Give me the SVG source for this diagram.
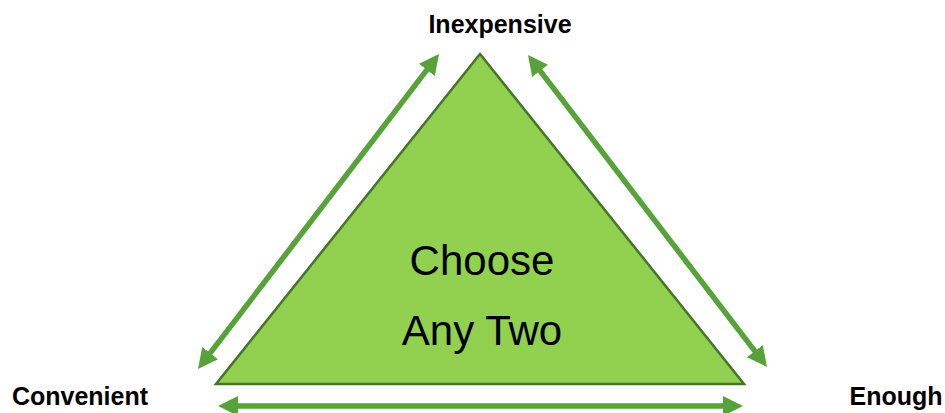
<svg xmlns="http://www.w3.org/2000/svg" width="945" height="413" viewBox="0 0 945 413">
<style>
.lbl{font-family:"Liberation Sans",Arial,sans-serif;font-weight:bold;font-size:25px;fill:#000}
.mid{font-family:"Liberation Sans",Arial,sans-serif;font-size:42px;fill:#000}
.arr{stroke:#57A33A;stroke-width:5.5;fill:none;marker-start:url(#ah);marker-end:url(#ah)}
</style>
<defs>
<marker id="ah" viewBox="0 0 20 20" refX="6" refY="10" markerWidth="20" markerHeight="20" markerUnits="userSpaceOnUse" orient="auto-start-reverse">
<path d="M0,0 L20,10 L0,20 z" fill="#57A33A"/>
</marker>
</defs>
<rect width="945" height="413" fill="#fff"/>
<g id="triangle">
<polygon points="480,54 216,384 744,384" fill="#92D050" stroke="#46742A" stroke-width="2.5" stroke-linejoin="miter"/>
<text class="mid" x="482" y="275" text-anchor="middle">Choose</text>
<text class="mid" x="482" y="345" text-anchor="middle">Any Two</text>
</g>
<g id="inexpensive"><text class="lbl" x="500" y="33" text-anchor="middle">Inexpensive</text></g>
<g id="convenient"><text class="lbl" x="80" y="405" text-anchor="middle">Convenient</text></g>
<g id="enough"><text class="lbl" x="896" y="405" text-anchor="middle">Enough</text></g>
<g id="connectors">
<line class="arr" x1="206.5" y1="357.9" x2="430.5" y2="65.1"/>
<line class="arr" x1="536.5" y1="66.1" x2="758.5" y2="355.9"/>
<line class="arr" x1="232" y1="406" x2="729" y2="406"/>
</g>
</svg>
